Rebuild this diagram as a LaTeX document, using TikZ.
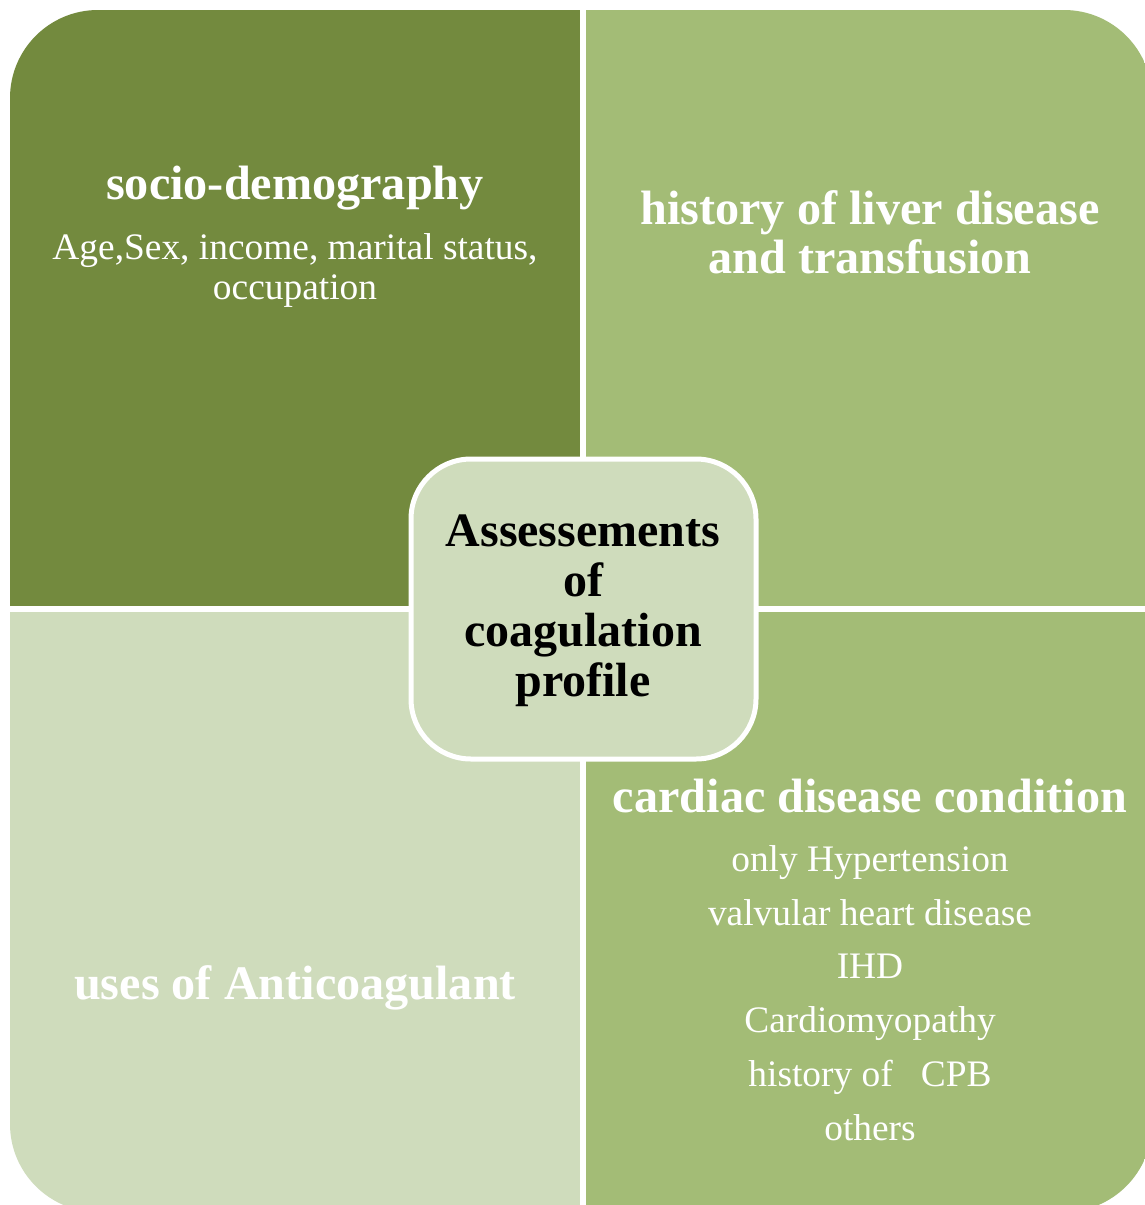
\documentclass[tikz,border=0pt]{standalone}
\usepackage{fontspec}
\setmainfont{Liberation Serif}
\definecolor{darkolive}{RGB}{115,138,62}
\definecolor{midgreen}{RGB}{163,188,118}
\definecolor{palegreen}{RGB}{207,220,188}
\begin{document}
\begin{tikzpicture}[x=1pt,y=-1pt,
  head/.style={text=white,align=center,font=\fontsize{48.2}{49}\selectfont\bfseries,inner sep=0pt},
  body/.style={text=white,align=center,font=\fontsize{37.4}{40}\selectfont,inner sep=0pt},
  list/.style={text=white,align=center,font=\fontsize{37.4}{53.8}\selectfont,inner sep=0pt},
  centre/.style={text=black,align=center,font=\fontsize{48}{50}\selectfont\bfseries,inner sep=0pt}]
\useasboundingbox (0,0) rectangle (1145,1205);
\fill[white] (0,0) rectangle (1145,1205);
\begin{scope}
  \clip[rounded corners=88pt] (10,10) rectangle (1152,1212);
  \fill[darkolive] (10,10) rectangle (580,606);
  \fill[midgreen] (586,10) rectangle (1152,606);
  \fill[palegreen] (10,612) rectangle (580,1212);
  \fill[midgreen] (586,612) rectangle (1152,1212);
\end{scope}
\draw[white,line width=5pt,fill=palegreen,rounded corners=60pt] (411,459) rectangle (756,759);
\node[head] (sd) at (295,188) {socio-demography};
\node[body] (sdb) at (295,271) {Age,Sex, income, marital status,\\occupation};
\node[head] (hl) at (870,232) {history of liver disease\\and transfusion};
\node[centre] (c) at (583,611) {Assessements\\of\\coagulation\\profile};
\node[head] (cd) at (870,796) {cardiac disease condition};
\node[list] (cl) at (870,993) {only Hypertension\\valvular heart disease\\IHD\\Cardiomyopathy\\history of\ \ \ CPB\\others};
\node[head] (ua) at (295,988) {uses of Anticoagulant};
\end{tikzpicture}
\end{document}
